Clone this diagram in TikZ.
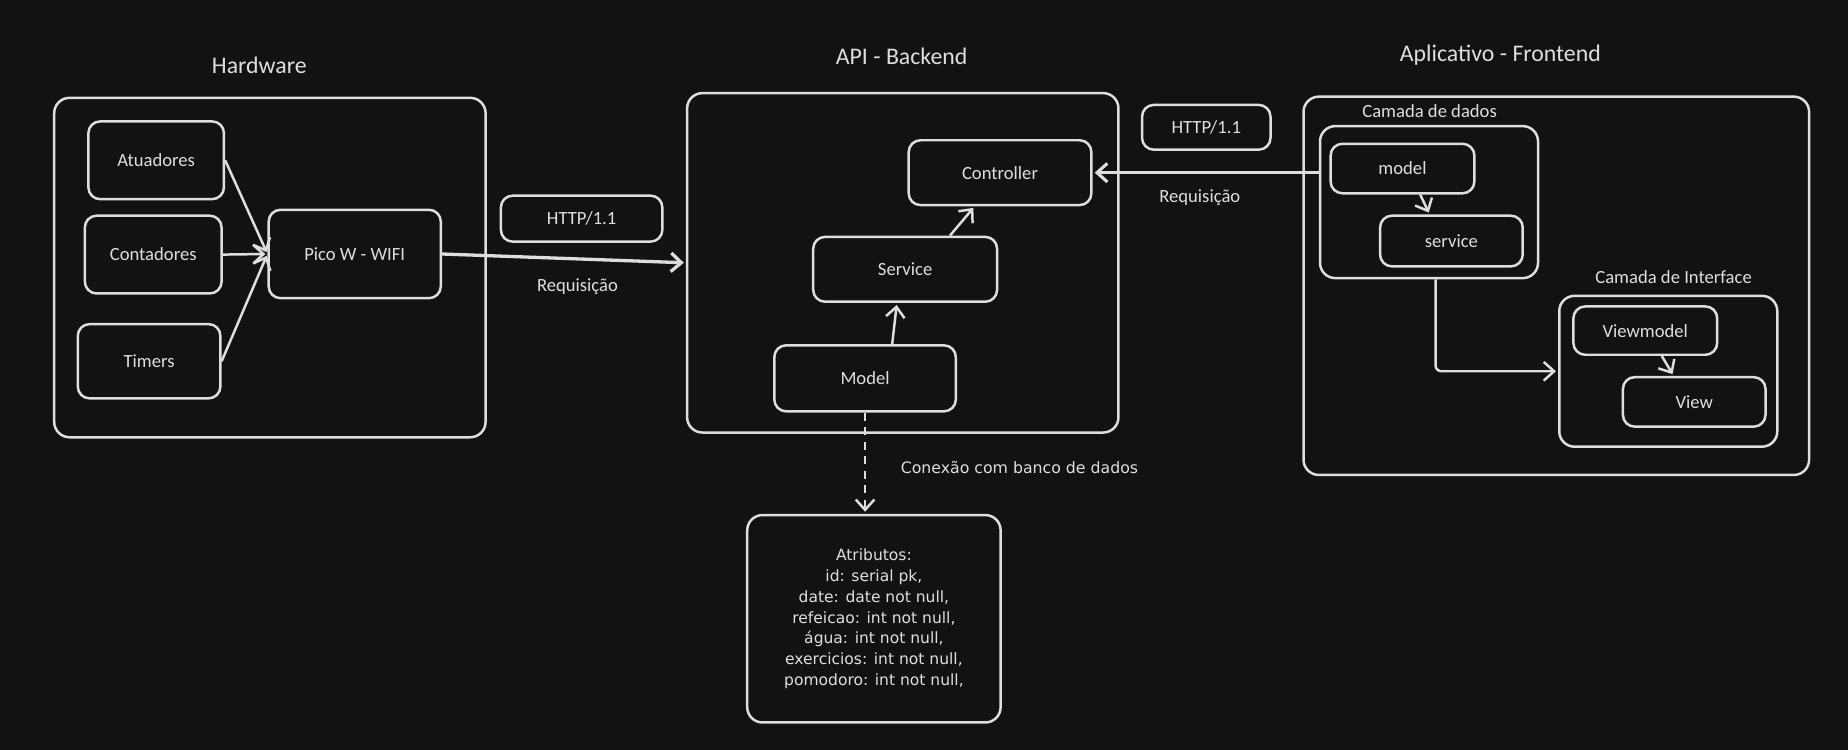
\documentclass[tikz,border=0pt]{standalone}
\usepackage{fontspec}
\setmainfont{Carlito}
\newfontfamily\dbfont{DejaVu Sans}
\usetikzlibrary{arrows.meta}
\definecolor{bg}{HTML}{121212}
\definecolor{ink}{HTML}{DEDEDE}

\begin{document}
\begin{tikzpicture}[x=0.02cm, y=-0.02cm, color=ink, line width=1.2pt,
   box/.style={draw=ink, rounded corners=0.2cm, text=ink, inner sep=0pt,
     font=\fontsize{9}{11}\selectfont},
   group/.style={box, rounded corners=0.26cm},
   post/.style={-{Straight Barb[length=5pt,width=9pt]}, shorten >=1pt},
   title/.style={text=ink, font=\fontsize{11.5}{14}\selectfont},
   lbl/.style={text=ink, font=\fontsize{9}{11}\selectfont}]

   \useasboundingbox (0,0) rectangle (1568,636);
   \fill[bg] (0,0) rectangle (1568,636);

   % containers
   \foreach \x/\y/\w/\h/\n in {229/227/366/288/hw, 766/223/366/288/api,
       1320.5/242.5/429/321/front, 1212.5/171.5/185/129/dados, 1415.5/315/185/128/iface}
     \node [group, minimum width=\w*0.02cm, minimum height=\h*0.02cm] (\n) at (\x,\y) {};

   % boxes
   \foreach \x/\y/\w/\h/\n/\t in {132.5/136/115/66/atu/Atuadores, 130/216/116/66/cnt/Contadores,
       126.5/306.5/121/63/tim/Timers, 301/215.5/146/75/pico/Pico W - WIFI,
       493.5/185.5/137/39/httpa/{HTTP/1.1}, 848.5/146.5/155/55/ctl/Controller,
       768/228.5/156/55/srv/Service, 734/321/154/56/mdl/Model,
       1023.5/108/109/38/httpb/{HTTP/1.1}, 1190/143/122/42/mdlb/model,
       1231.5/204.5/121/43/srvb/service, 1396/280.5/122/41/vm/Viewmodel,
       1437.5/341/121/42/vw/View}
     \node [box, minimum width=\w*0.02cm, minimum height=\h*0.02cm] (\n) at (\x,\y) {\t};

   \node [group, minimum width=215*0.02cm, minimum height=176*0.02cm, align=center,
     font=\dbfont\fontsize{7.5}{10}\selectfont] (db) at (741.5,525)
     {Atributos:\\id: serial pk,\\date: date not null,\\refeicao: int not null,\\
      água: int not null,\\exercicios: int not null,\\pomodoro: int not null,};

   % titles and labels
   \node [title] (tHw) at (220,55) {Hardware};
   \node [title] (tApi) at (765,48) {API - Backend};
   \node [title] (tFront) at (1273,47) {Aplicativo - Frontend};
   \node [lbl] (reqa) at (490,243) {Requisição};
   \node [lbl] (reqb) at (1018,168) {Requisição};
   \node [lbl] (tDados) at (1213,94) {Camada de dados};
   \node [lbl] (tIface) at (1420,235) {Camada de Interface};
   \node [text=ink, font=\dbfont\fontsize{7.6}{10}\selectfont] (tDb) at (865,397) {Conexão com banco de dados};

   % connectors
   \foreach \i in {atu, cnt, tim}
     \draw (\i.east) edge[post] (pico.west);
   \draw (pico.east) edge[post, line width=1.6pt] (api.west);
   \draw (757,0 |- mdl.north) edge[post] (761,0 |- srv.south);
   \draw (806,0 |- srv.north) edge[post] (827,0 |- ctl.south);
   \draw (mdl.south) edge[post, dash pattern=on 4pt off 3pt] (mdl.south |- db.north);
   \draw (dados.west |- ctl.east) edge[post, line width=1.5pt] (ctl.east);
   \draw (1205,0 |- mdlb.south) edge[post] (1213,0 |- srvb.north);
   \draw (1410,0 |- vm.south) edge[post] (1420,0 |- vw.north);
   \draw [post, rounded corners=0.1cm] (1218,0 |- dados.south) |- (iface.west);
\end{tikzpicture}
\end{document}
